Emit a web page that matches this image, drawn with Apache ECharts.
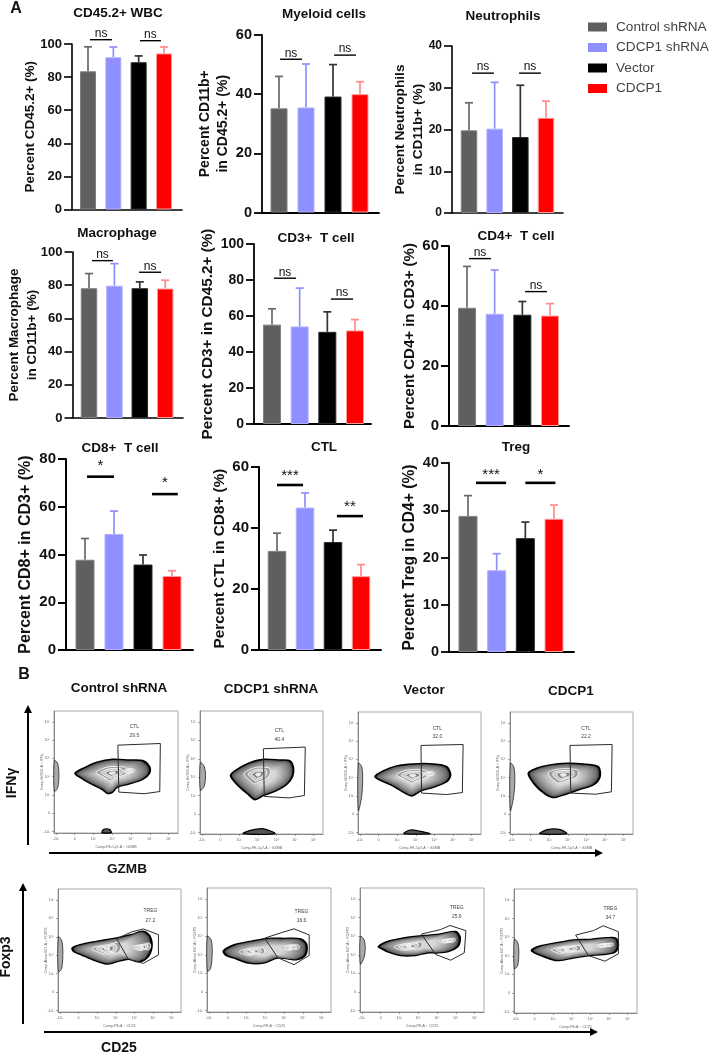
<!DOCTYPE html>
<html><head><meta charset="utf-8"><style>html,body{margin:0;padding:0;background:#fff}#c{width:711px;height:1053px}</style>
<script src="https://cdn.jsdelivr.net/npm/echarts@6/dist/echarts.min.js"></script></head><body><div id="c"></div>
<script>
// ---------- chart values ----------
const groups = ['Control shRNA','CDCP1 shRNA','Vector','CDCP1'];
const groupColors = ['#5f5f5f','#8f8fff','#000000','#ff0000'];
const edgeColors = ['#808080','#b0b0ff','#2a2a2a','#ff9c9c'];
const whiskerColors = ['#696969','#8f8fff','#333333','#ff8c8c'];

const panelTitles = ['CD45.2+ WBC','Myeloid cells','Neutrophils','Macrophage','CD3+  T cell','CD4+  T cell','CD8+  T cell','CTL','Treg'];
const yNames = ['Percent CD45.2+ (%)','Percent CD11b+\nin CD45.2+ (%)','Percent Neutrophils\nin CD11b+ (%)','Percent Macrophage\nin CD11b+ (%)','Percent CD3+ in CD45.2+ (%)','Percent CD4+ in CD3+ (%)','Percent CD8+ in CD3+ (%)','Percent CTL in CD8+ (%)','Percent Treg in CD4+ (%)'];
const yMax = [100,60,40,100,100,60,80,60,40];
const yStep = [20,20,10,20,20,20,20,20,10];

const wbcMean = [83.5,92,89,94.3],        wbcUpper = [98.3,98.2,92.8,98.2];
const myeloidMean = [35.2,35.5,39.2,40],  myeloidUpper = [46,50.2,50,44.2];
const neutroMean = [19.8,20.2,18.2,22.8], neutroUpper = [26.4,31.3,30.6,26.8];
const macroMean = [78.2,79.7,78.2,78],    macroUpper = [87,93,82,83];
const cd3Mean = [55.2,54.2,51.2,52],      cd3Upper = [64,75.5,62.3,58];
const cd4Mean = [39.4,37.4,37.1,36.8],    cd4Upper = [53.2,52,41.5,40.8];
const cd8Mean = [37.8,48.6,35.8,31],      cd8Upper = [46.7,58.2,39.8,33.2];
const ctlMean = [32.5,46.7,35.4,24.2],    ctlUpper = [38.3,51.5,39.3,28];
const tregMean = [28.8,17.3,24.1,28.2],   tregUpper = [33.1,20.8,27.5,31.1];
const allMeans = [wbcMean,myeloidMean,neutroMean,macroMean,cd3Mean,cd4Mean,cd8Mean,ctlMean,tregMean];
const allUppers = [wbcUpper,myeloidUpper,neutroUpper,macroUpper,cd3Upper,cd4Upper,cd8Upper,ctlUpper,tregUpper];

// significance: from group, to group, level on the y scale, label
const sigWbc = [[.08,.95,102.6,'ns'],[2.05,2.88,102,'ns']];
const sigMyeloid = [[.04,.85,51.8,'ns'],[2.04,2.85,53.2,'ns']];
const sigNeutro = [[.12,.97,33.5,'ns'],[1.95,2.8,33.5,'ns']];
const sigMacro = [[.12,.94,94.8,'ns'],[1.97,2.84,87.8,'ns']];
const sigCd3 = [[.07,.87,81,'ns'],[2.13,2.93,69.4,'ns']];
const sigCd4 = [[.07,.87,55.8,'ns'],[2.1,2.89,44.8,'ns']];
const sigCd8 = [[.07,1,72.6,'*'],[2.31,3.2,65.3,'*']];
const sigCtl = [[0,.93,54.1,'***'],[2.14,3.07,43.9,'**']];
const sigTreg = [[.28,1.33,35.8,'***'],[2,3.05,35.8,'*']];
const allSig = [sigWbc,sigMyeloid,sigNeutro,sigMacro,sigCd3,sigCd4,sigCd8,sigCtl,sigTreg];

// flow plots (axis decades)
const flowTickLabels = ['-10³','0','10³','10⁴','10⁵','10⁶','10⁷'];
const flowColumns = ['Control shRNA','CDCP1 shRNA','Vector','CDCP1'];
const ctlPercent = ['29.5','40.4','32.0','22.2'];
const tregPercent = ['27.2','16.6','25.6','34.7'];
const blobCtl1 = [[1.02,3.19],[1.56,3.51],[2.19,3.79],[3.01,3.95],[3.89,3.91],[4.62,3.88],[4.98,3.55],[4.98,3.19],[4.62,2.86],[3.89,2.61],[3.26,2.43],[2.99,2.14],[2.72,2.10],[2.45,2.32],[1.82,2.64],[1.29,2.97]];
const blobCtl2 = [[1.54,3.10],[2.04,3.52],[2.58,3.79],[3.30,3.97],[4.19,3.93],[4.73,3.88],[4.91,3.52],[4.87,3.06],[4.55,2.61],[3.92,2.24],[3.30,2.01],[2.85,1.79],[2.49,2.07],[1.95,2.55]];
const blobCtl3 = [[.81,3.06],[1.25,3.37],[1.97,3.64],[2.87,3.75],[3.94,3.75],[4.66,3.60],[4.87,3.15],[4.66,2.79],[3.94,2.48],[3.31,2.30],[2.78,2.01],[2.42,2.16],[1.79,2.55],[1.16,2.84]];
const blobCtl4 = [[.88,3.24],[1.33,3.52],[2.04,3.70],[2.94,3.79],[3.83,3.75],[4.64,3.60],[4.73,3.06],[4.37,2.61],[3.66,2.37],[2.94,2.12],[2.22,1.92],[1.77,2.12],[1.24,2.61]];
const blobTreg1 = [[.66,3.39],[1.08,3.57],[1.97,3.75],[3.05,3.94],[3.85,4.12],[4.48,4.30],[4.84,4.03],[4.93,3.39],[4.66,2.84],[4.21,2.65],[3.67,2.79],[3.05,2.65],[2.51,2.53],[1.79,2.75],[1.17,3.02],[.75,3.20]];
const blobTreg2 = [[.77,3.20],[1.31,3.52],[2.38,3.75],[3.10,3.88],[4.0,3.88],[4.89,3.85],[5.2,3.57],[5.16,3.02],[4.71,2.75],[4.18,2.79],[3.64,2.84],[2.92,2.56],[2.11,2.56],[1.31,2.84],[.91,2.98]];
const blobTreg3 = [[.88,3.44],[1.33,3.70],[2.22,3.90],[3.30,4.03],[4.19,4.12],[5.0,4.25],[5.23,3.94],[5.13,3.48],[4.64,3.20],[4.01,3.11],[3.48,3.11],[2.85,2.97],[2.04,2.97],[1.41,3.15],[1.06,3.33]];
const blobTreg4 = [[.84,3.30],[1.29,3.52],[2.19,3.70],[3.08,3.85],[3.98,3.88],[4.88,3.97],[5.38,3.94],[5.5,3.57],[5.32,3.20],[4.69,3.08],[3.98,3.02],[3.08,2.89],[2.19,2.75],[1.47,2.97],[1.02,3.15]];
const gateCtl1 = [[3.30,4.73],[5.56,4.82],[5.53,2.19],[4.70,2.07],[3.35,2.16]];
const gateCtl2 = [[3.30,4.55],[5.55,4.64],[5.50,2.01],[4.68,1.88],[3.35,1.96]];
const gateCtl3 = [[3.28,4.77],[5.54,4.82],[5.50,2.19],[4.66,2.08],[3.31,2.16]];
const gateCtl4 = [[3.12,4.77],[5.38,4.82],[5.34,2.23],[4.50,2.10],[3.16,2.16]];
const gateTreg1 = [[3.05,3.90],[3.85,4.27],[4.48,4.43],[5.29,4.12],[5.29,3.02],[4.48,2.56],[3.67,2.80]];
const gateTreg2 = [[2.97,3.90],[3.82,4.18],[4.53,4.40],[5.34,4.07],[5.34,2.97],[4.53,2.47],[3.67,2.84]];
const gateTreg3 = [[3.17,4.12],[4.19,4.36],[4.69,4.58],[5.54,4.30],[5.45,3.11],[4.73,2.71],[3.92,3.02]];
const gateTreg4 = [[3.21,4.12],[4.16,4.36],[4.69,4.62],[5.50,4.30],[5.50,3.11],[4.78,2.71],[3.89,3.02]];
const peakCtl = [[[3.0,3.19,.42],[3.9,3.3,.16]],[[3.03,3.15,.42]],[[2.83,3.11,.42],[3.7,3.2,.16]],[[2.76,3.15,.42]]];
const peakTreg = [[[2.54,3.35,.36],[4.39,3.44,.24]],[[2.33,3.17,.3],[4.35,3.39,.22]],[[2.49,3.44,.34],[4.55,3.75,.2]],[[2.72,3.35,.34],[4.78,3.57,.2]]];
const edgeBlobCtl = [[[-.08,3.9],[.1,3.7],[.16,3.1],[.1,2.4],[-.08,2.2]],[[-.08,3.8],[.12,3.6],[.2,3.1],[.12,2.5],[-.08,2.3]],[[-.08,3.8],[.1,3.6],[.15,3],[.1,2],[-.08,1.2]],[[-.08,3.8],[.1,3.6],[.16,3],[.1,2],[-.08,1.2]]];
const edgeBlobTreg = [[[-.08,4],[.1,3.8],[.16,3.2],[.1,2.3],[-.08,2.1]],[[-.08,4],[.12,3.8],[.18,3.2],[.1,2.3],[-.08,2.1]],[[-.08,4],[.12,3.8],[.18,3.3],[.1,2.8],[-.08,2.5]],[[-.08,3.9],[.1,3.7],[.16,3.2],[.1,2.5],[-.08,2.3]]];
const floorBlobCtl = [[[2.45,-.06],[2.55,.12],[2.85,.12],[2.95,-.06]],[[2.22,-.06],[2.6,.12],[3.3,.2],[3.92,-.06]],[[2.37,-.06],[2.7,.14],[3.2,.08],[3.76,-.06]],[[1.5,-.06],[1.9,.16],[2.6,.16],[2.94,-.06]]];

// ---------- layout ----------
const barLayout = [
 {x:72,top:44,bot:209.5,end:182,c1:88,b:25.33,bw:16,tick:13,name:13.5,gap:33,lw:1.6},
 {x:262,top:35,bot:212.5,end:379,c1:279,b:27,bw:17,tick:14.5,name:14,gap:30,lw:1.8},
 {x:452,top:46,bot:213,end:563,c1:469,b:25.67,bw:16.5,tick:12,name:13.7,gap:25,lw:1.6},
 {x:72.5,top:252,bot:418,end:183,c1:89,b:25.4,bw:16.5,tick:13,name:13.5,gap:31,lw:1.6},
 {x:254,top:244,bot:424,end:371,c1:272,b:27.67,bw:18,tick:14,name:15.3,gap:37,lw:1.8},
 {x:449,top:246,bot:426,end:569,c1:467,b:27.67,bw:18,tick:15,name:15,gap:30,lw:2},
 {x:66,top:459,bot:650,end:193,c1:85,b:29,bw:19,tick:15,name:16,gap:31,lw:2},
 {x:259,top:467,bot:650,end:381,c1:277,b:28,bw:18.5,tick:15,name:15.3,gap:30,lw:2},
 {x:449,top:463,bot:652,end:574,c1:468,b:28.67,bw:19,tick:14.5,name:15.6,gap:30,lw:1.8}
];
const titlePos = [[118,12],[324,13],[503,15],[117,232],[316,237],[516,235],[120,447],[324,446],[516,446]];
const sigGap = [6,6,6,6,6,6,11,9,8];
const flowBoxes = [[54,711,124,122],[200,711,123,123],[358,712,123,122],[510,712,123,122],[58,889,123,123],[207,888,124,124],[360,888,124,124],[514,889,123,124]];
const font = '"Liberation Sans", Arial, sans-serif';

const grid=[],xAxis=[],yAxis=[],series=[],title=[];
barLayout.forEach((L,p)=>{
  grid.push({left:L.x,top:L.top,width:L.end-L.x,height:L.bot-L.top,containLabel:false});
  xAxis.push({gridIndex:p,type:'value',min:(L.x-L.c1)/L.b,max:(L.end-L.c1)/L.b,
    axisLine:{show:true,onZero:false,lineStyle:{color:'#000',width:L.lw}},axisTick:{show:false},axisLabel:{show:false},splitLine:{show:false}});
  yAxis.push({gridIndex:p,type:'value',min:0,max:yMax[p],interval:yStep[p],
    name:yNames[p],nameLocation:'middle',nameGap:L.gap,nameRotate:90,nameMoveOverlap:false,
    nameTextStyle:{fontFamily:font,fontWeight:'bold',fontSize:L.name,color:'#111',lineHeight:18},
    axisLine:{show:true,onZero:false,lineStyle:{color:'#000',width:L.lw}},
    axisTick:{show:true,length:8,lineStyle:{color:'#000',width:L.lw}},
    axisLabel:{fontFamily:font,fontWeight:'bold',fontSize:L.tick,color:'#111',margin:10},splitLine:{show:false}});
  groups.forEach((g,i)=>{
    series.push({name:g,type:'bar',xAxisIndex:p,yAxisIndex:p,barWidth:L.bw,barGap:'-100%',
      itemStyle:{color:groupColors[i],borderColor:edgeColors[i],borderWidth:1},
      data:[[i,allMeans[p][i]]],silent:true,animation:false});
  });
  series.push({type:'custom',xAxisIndex:p,yAxisIndex:p,silent:true,animation:false,z:1,
    data:allMeans[p].map((m,i)=>[i,m,allUppers[p][i]]),
    encode:{x:0,y:[1,2]},
    renderItem:(params,api)=>{
      const i=api.value(0),a=api.coord([i,api.value(1)]),b=api.coord([i,api.value(2)]);
      const st={stroke:whiskerColors[i],lineWidth:1.7,fill:null};
      return {type:'group',children:[
        {type:'line',shape:{x1:a[0],y1:a[1],x2:b[0],y2:b[1]},style:st},
        {type:'line',shape:{x1:b[0]-4,y1:b[1],x2:b[0]+4,y2:b[1]},style:st}]};
    }});
  const sig=allSig[p];
  series.push({type:'custom',xAxisIndex:p,yAxisIndex:p,silent:true,animation:false,clip:false,z:3,
    data:sig.map(s=>[s[0],s[1],s[2]]),
    encode:{x:[0,1],y:2},
    renderItem:(params,api)=>{
      const s=sig[params.dataIndex],a=api.coord([s[0],s[2]]),b=api.coord([s[1],s[2]]);
      const star=s[3]!=='ns';
      return {type:'group',children:[
        {type:'line',shape:{x1:a[0],y1:a[1],x2:b[0],y2:b[1]},style:{stroke:'#000',lineWidth:star?2.6:1.4,fill:null}},
        {type:'text',style:{text:s[3],x:(a[0]+b[0])/2,y:a[1]-sigGap[p],align:'center',verticalAlign:'middle',
          fontFamily:font,fontSize:star?15:12,fill:'#111'}}]};
    }});
  title.push({text:panelTitles[p],left:titlePos[p][0],top:titlePos[p][1]-6,textAlign:'center',padding:0,
    textStyle:{fontFamily:font,fontWeight:'bold',fontSize:13.5,color:'#111'}});
});

const flowBlobs=[blobCtl1,blobCtl2,blobCtl3,blobCtl4,blobTreg1,blobTreg2,blobTreg3,blobTreg4];
const flowGates=[gateCtl1,gateCtl2,gateCtl3,gateCtl4,gateTreg1,gateTreg2,gateTreg3,gateTreg4];
const flowPeaks=peakCtl.concat(peakTreg);
const flowEdges=edgeBlobCtl.concat(edgeBlobTreg);
const flowTexts=[[4.18,5.72,5.27],[4.16,5.51,5.05],[4.16,5.69,5.23],[3.98,5.69,5.23],[4.86,5.4,4.9],[4.93,5.31,4.82],[5.05,5.55,5.07],[5.07,5.55,5.07]];
const flowCounts=ctlPercent.concat(tregPercent);
const ringFills=['#9a9a9a','#c4c4c4','#808080','#e8e8e8'];

flowBoxes.forEach((B,k)=>{
  const g=grid.length, ctl=k<4;
  grid.push({left:B[0],top:B[1],width:B[2],height:B[3],show:true,borderColor:'#a8a8a8',borderWidth:1,backgroundColor:'#fff'});
  xAxis.push({gridIndex:g,type:'value',min:-.1,max:6.5,
    name:ctl?'Comp-PE-Cy7-A :: GZMB':'Comp-PE-A :: CD25',nameLocation:'middle',nameGap:12,
    nameTextStyle:{fontSize:3.6,fontFamily:font,color:'#666'},
    axisLine:{show:true,onZero:false,lineStyle:{color:'#888',width:1}},
    axisTick:{show:true,length:2,customValues:[0,1,2,3,4,5,6],lineStyle:{color:'#666',width:.6}},
    axisLabel:{customValues:[0,1,2,3,4,5,6],formatter:v=>flowTickLabels[v],fontSize:3.6,fontFamily:font,color:'#666',margin:4},
    splitLine:{show:false}});
  yAxis.push({gridIndex:g,type:'value',min:-.08,max:6.6,
    name:ctl?'Comp-BV650-A :: IFNγ':'Comp-Alexa 647-A :: FOXP3',nameLocation:'middle',nameGap:10,nameRotate:90,nameMoveOverlap:false,
    nameTextStyle:{fontSize:3.6,fontFamily:font,color:'#666'},
    axisLine:{show:true,onZero:false,lineStyle:{color:'#888',width:1}},
    axisTick:{show:true,length:2,customValues:[0,1,2,3,4,5,6],lineStyle:{color:'#666',width:.6}},
    axisLabel:{customValues:[0,1,2,3,4,5,6],formatter:v=>flowTickLabels[v],fontSize:3.6,fontFamily:font,color:'#666',margin:4},
    splitLine:{show:false}});
  const blob=flowBlobs[k],gate=flowGates[k],peaks=flowPeaks[k],edge=flowEdges[k],txt=flowTexts[k];
  const floor=ctl?floorBlobCtl[k]:null;
  const cx=blob.reduce((a,q)=>a+q[0],0)/blob.length, cy=blob.reduce((a,q)=>a+q[1],0)/blob.length;
  series.push({type:'custom',xAxisIndex:g,yAxisIndex:g,silent:true,animation:false,clip:false,z:2,
    data:blob, encode:{x:0,y:1},
    renderItem:(params,api)=>{
      if(params.dataIndex!==0) return;
      const kids=[], px=pts=>pts.map(q=>api.coord(q));
      kids.push({type:'polygon',shape:{points:px(edge),smooth:.3},style:{fill:'#aaa',stroke:'#222',lineWidth:.8}});
      if(floor) kids.push({type:'polygon',shape:{points:px(floor),smooth:.3},style:{fill:'#555',stroke:'#000',lineWidth:1.2}});
      const n=16;
      kids.push({type:'polygon',shape:{points:px(blob),smooth:.3},style:{fill:'#0c0c0c',stroke:'#000',lineWidth:1.7}});
      for(let i=0;i<n;i++){
        const s=.96-i/n*.62, v=Math.round(85+Math.pow(i/(n-1),.7)*130);
        kids.push({type:'polygon',shape:{points:px(blob.map(q=>[cx+(q[0]-cx)*s,cy+(q[1]-cy)*s])),smooth:.3},
          style:{fill:`rgb(${v},${v},${v})`}});
      }
      peaks.forEach(P=>{
        [1,.72,.45,.2].forEach((f,j)=>{
          kids.push({type:'polygon',shape:{points:px(blob.map(q=>[P[0]+(q[0]-cx)*P[2]*f,P[1]+(q[1]-cy)*P[2]*f])),smooth:.3},
            style:{fill:ringFills[j],stroke:'#fafafa',lineWidth:.9}});
        });
      });
      kids.push({type:'polygon',shape:{points:px(gate)},style:{fill:null,stroke:'#2b2b2b',lineWidth:1}});
      const a=api.coord([txt[0],txt[1]]),b=api.coord([txt[0],txt[2]]);
      kids.push({type:'text',style:{text:ctl?'CTL':'TREG',x:a[0],y:a[1],align:'center',verticalAlign:'middle',fontFamily:font,fontSize:5,fill:'#444'}});
      kids.push({type:'text',style:{text:flowCounts[k],x:b[0],y:b[1],align:'center',verticalAlign:'middle',fontFamily:font,fontSize:5,fill:'#444'}});
      return {type:'group',children:kids};
    }});
});

function arrow(x1,y1,x2,y2){
  const dx=Math.sign(x2-x1),dy=Math.sign(y2-y1);
  const bx=x2-dx*8,by=y2-dy*8;
  return [
    {type:'line',shape:{x1,y1,x2:bx,y2:by},style:{stroke:'#000',lineWidth:2}},
    {type:'polygon',shape:{points:[[x2,y2],[bx+dy*4,by+dx*4],[bx-dy*4,by-dx*4]]},style:{fill:'#000'}}
  ];
}
function label(text,x,y,size,rot){
  return {type:'text',x,y,rotation:rot?Math.PI/2:0,style:{text,align:'center',verticalAlign:'middle',
    fontFamily:font,fontWeight:'bold',fontSize:size,fill:'#111'}};
}
const colPos=[[119,688],[271,689],[424,690],[571,691]];
const graphicEls=[
  ...arrow(28,845,28,705),...arrow(49,853,603,853),
  ...arrow(23,1024,23,883),...arrow(44,1032,598,1032),
  label('A',16,9,16),label('B',24,675,16),
  ...flowColumns.map((t,i)=>label(t,colPos[i][0],colPos[i][1],13.5)),
  label('IFNγ',12,783,14,true),label('GZMB',127,869,13.6),
  label('Foxp3',6,957,14,true),label('CD25',119,1048,14)
];

const chart=echarts.init(document.getElementById('c'),null,{renderer:'canvas',width:711,height:1053});
chart.setOption({
  animation:false,backgroundColor:'#fff',title,grid,xAxis,yAxis,series,
  legend:{data:groups,orient:'vertical',left:583,top:15,itemWidth:19,itemHeight:9,itemGap:6.5,icon:'rect',selectedMode:false,
    itemStyle:{borderWidth:0},
    textStyle:{fontFamily:font,fontSize:13.6,color:'#444',padding:[0,0,0,4]}},
  graphic:graphicEls
});
</script></body></html>
